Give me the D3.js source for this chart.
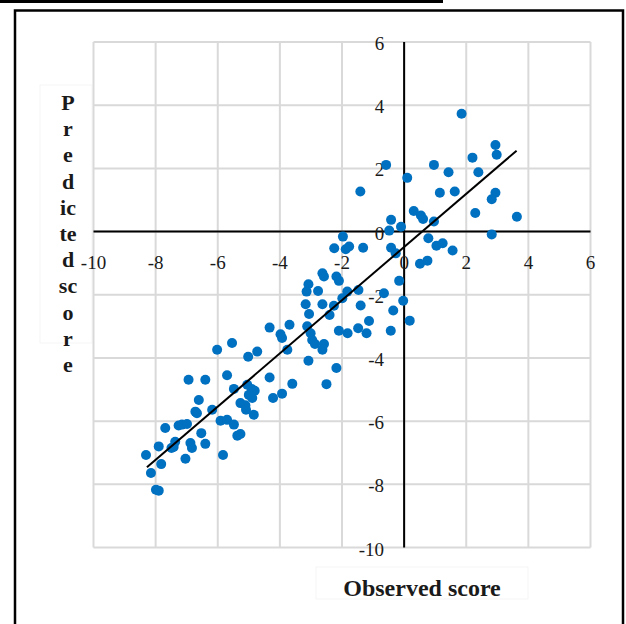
<!DOCTYPE html>
<html>
<head>
<meta charset="utf-8">
<script src="https://cdn.jsdelivr.net/npm/d3@7"></script>
<style>
  body { margin: 0; background: #fff; }
  text { font-family: "Liberation Serif", "Times New Roman", serif; }
</style>
</head>
<body>
<div id="chart"></div>
<script>
// observed / predicted scores
var observed = [
    1.85, 2.94, 2.98, 2.20, 2.39, -0.58, 0.96, 1.43, 0.10, -1.41,
    1.15, 1.63, 2.94, 2.82, 2.29, 3.63, 0.31, 0.54, 0.61, 0.96,
    -0.42, -0.48, -0.10, 2.82, -1.97, 0.78, -2.25, -1.88, -1.77, -1.32,
    -0.42, -0.27, 1.04, 1.24, 1.56, 0.51, 0.75, -0.16,
    -2.63, -2.58, -2.18, -2.10, -3.08, -3.14, -2.77, -1.83, -1.99, -1.47,
    -0.65, -0.03, -3.17, -2.63, -2.26, -1.40, -3.06, -2.40, -0.35, 0.18,
    -1.13, -4.33, -3.69, -3.98, -3.93, -3.12, -3.01, -2.10, -1.82, -1.48,
    -1.21, -0.43, -2.96, -2.87, -2.58, -2.63, -3.76, -4.73, -5.02, -3.08,
    -2.18, -4.33, -3.60, -2.50, -3.93, -4.22,
    -6.02, -5.54, -6.94, -6.40, -5.70, -5.48, -5.05, -4.91, -4.81, -5.00,
    -4.89, -6.61, -5.27, -5.11, -5.09, -4.84, -6.18, -6.72, -6.67, -5.91,
    -5.70, -5.48, -5.37, -5.27, -7.69, -7.26, -7.15, -6.99, -6.53, -6.88,
    -6.83, -6.40, -7.37, -7.49, -7.42, -7.90, -8.31, -7.82, -7.04, -5.83,
    -8.15, -7.99, -7.90
];
var predicted = [
    3.73, 2.74, 2.43, 2.34, 1.88, 2.11, 2.11, 1.88, 1.70, 1.27,
    1.23, 1.27, 1.23, 1.02, 0.59, 0.47, 0.65, 0.51, 0.40, 0.32,
    0.37, 0.03, 0.15, -0.09, -0.16, -0.21, -0.53, -0.56, -0.47, -0.51,
    -0.51, -0.69, -0.45, -0.37, -0.60, -1.02, -0.92, -1.56,
    -1.32, -1.42, -1.42, -1.56, -1.67, -1.90, -1.88, -1.90, -2.11, -1.85,
    -1.95, -2.19, -2.30, -2.30, -2.35, -2.34, -2.61, -2.64, -2.50, -2.82,
    -2.83, -3.04, -2.95, -3.25, -3.37, -3.00, -3.22, -3.14, -3.22, -3.06,
    -3.22, -3.14, -3.43, -3.56, -3.56, -3.74, -3.74, -3.80, -3.96, -4.09,
    -4.32, -4.62, -4.82, -4.83, -5.13, -5.27,
    -3.74, -3.53, -4.69, -4.69, -4.55, -4.98, -4.85, -4.98, -5.04, -5.17,
    -5.27, -5.33, -5.43, -5.50, -5.64, -5.80, -5.64, -5.70, -5.75, -5.99,
    -5.96, -6.11, -6.46, -6.41, -6.22, -6.14, -6.11, -6.09, -6.38, -6.69,
    -6.85, -6.72, -6.65, -6.85, -6.82, -6.80, -7.07, -7.36, -7.19, -7.07,
    -7.64, -8.17, -8.20
];

// fitted line ends
var trendX = [-8.28, 3.62];
var trendY = [-7.46, 2.56];

var xTicks = [-10, -8, -6, -4, -2, 0, 2, 4, 6];
var yTicks = [-10, -8, -6, -4, -2, 0, 2, 4, 6];

var yTitle = ['P', 'r', 'e', 'd', 'ic', 'te', 'd', 'sc', 'o', 'r', 'e'];
var xTitle = 'Observed score';

function buildChart(containerId) {
    var width = 626;
    var height = 624;
    var blue = '#0070c0';
    var gridColor = '#d9d9d9';

    var svg = d3
        .select(containerId)
        .append('svg')
        .attr('width', width)
        .attr('height', height);

    var x = d3.scaleLinear()
        .domain([-10, 6])
        .range([93.5, 590.5]);

    var y = d3.scaleLinear()
        .domain([-10, 6])
        .range([547.5, 42]);

    // bit of the box above
    svg.append('rect')
        .attr('x', 0)
        .attr('y', 0)
        .attr('width', 443)
        .attr('height', 3)
        .style('fill', '#000');

    // outer frame
    svg.append('rect')
        .attr('x', 15)
        .attr('y', 10.5)
        .attr('width', 608)
        .attr('height', 640)
        .style('fill', 'none')
        .style('stroke', '#000')
        .style('stroke-width', 2.5);

    // faint title boxes
    svg.append('rect')
        .attr('x', 40).attr('y', 85)
        .attr('width', 52).attr('height', 258)
        .style('fill', 'none')
        .style('stroke', '#f5f5f5');

    svg.append('rect')
        .attr('x', 316).attr('y', 567)
        .attr('width', 212).attr('height', 32)
        .style('fill', 'none')
        .style('stroke', '#f5f5f5');

    // gridlines
    var grid = svg.append('g');

    grid.selectAll('.vgrid')
        .data(xTicks)
        .enter()
        .append('line')
        .attr('class', 'vgrid')
        .attr('x1', d => x(d))
        .attr('x2', d => x(d))
        .attr('y1', y(6))
        .attr('y2', y(-10))
        .style('stroke', gridColor)
        .style('stroke-width', 2);

    grid.selectAll('.hgrid')
        .data(yTicks)
        .enter()
        .append('line')
        .attr('class', 'hgrid')
        .attr('x1', x(-10))
        .attr('x2', x(6))
        .attr('y1', d => y(d))
        .attr('y2', d => y(d))
        .style('stroke', gridColor)
        .style('stroke-width', 2);

    // axes through the origin
    svg.append('line')
        .attr('x1', x(-10))
        .attr('x2', x(6))
        .attr('y1', y(0))
        .attr('y2', y(0))
        .style('stroke', '#000')
        .style('stroke-width', 2);

    svg.append('line')
        .attr('x1', x(0))
        .attr('x2', x(0))
        .attr('y1', y(6))
        .attr('y2', y(-10))
        .style('stroke', '#000')
        .style('stroke-width', 2);

    // tick labels
    svg.selectAll('.xlab')
        .data(xTicks)
        .enter()
        .append('text')
        .attr('class', 'xlab')
        .attr('x', d => x(d))
        .attr('y', y(0) + 37)
        .attr('text-anchor', 'middle')
        .style('font-size', '19px')
        .style('fill', '#1a1a1a')
        .text(d => d);

    svg.selectAll('.ylab')
        .data(yTicks)
        .enter()
        .append('text')
        .attr('class', 'ylab')
        .attr('x', x(0) - 20)
        .attr('y', d => y(d) + 8)
        .attr('text-anchor', 'end')
        .style('font-size', '19px')
        .style('fill', '#1a1a1a')
        .text(d => d);

    // points
    var pts = observed.map((d, i) => ({ x: d, y: predicted[i] }));

    svg.append('g')
        .selectAll('circle')
        .data(pts)
        .enter()
        .append('circle')
        .attr('cx', d => x(d.x))
        .attr('cy', d => y(d.y))
        .attr('r', 5)
        .style('fill', blue);

    // trend line
    svg.append('line')
        .attr('x1', x(trendX[0]))
        .attr('y1', y(trendY[0]))
        .attr('x2', x(trendX[1]))
        .attr('y2', y(trendY[1]))
        .style('stroke', '#000')
        .style('stroke-width', 2);

    // y title, one chunk per line
    svg.selectAll('.ytitle')
        .data(yTitle)
        .enter()
        .append('text')
        .attr('class', 'ytitle')
        .attr('x', 68)
        .attr('y', (d, i) => 110 + i * 26.2)
        .attr('text-anchor', 'middle')
        .style('font-size', '22px')
        .style('font-weight', 'bold')
        .style('fill', '#1a1a1a')
        .text(d => d);

    svg.append('text')
        .attr('x', 422)
        .attr('y', 596)
        .attr('text-anchor', 'middle')
        .style('font-size', '24px')
        .style('font-weight', 'bold')
        .style('fill', '#1a1a1a')
        .text(xTitle);
}

buildChart('#chart');
</script>
</body>
</html>
